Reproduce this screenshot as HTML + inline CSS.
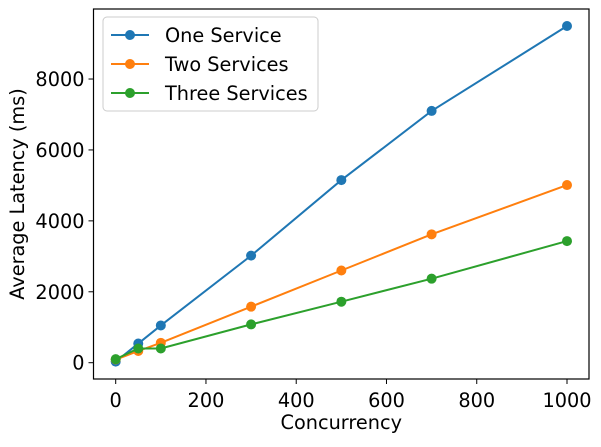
<!DOCTYPE html>
<html><head><meta charset="utf-8"><style>
body{margin:0;background:#fff;}
svg text{font-family:"DejaVu Sans","Liberation Sans",sans-serif;font-size:19.3px;fill:#000;}
</style></head><body>
<svg width="601" height="442" xmlns="http://www.w3.org/2000/svg">
<g id="plot"></g>
</svg>
<script>
const concurrency=[0,50,100,300,500,700,1000];
const oneService=[30,540,1050,3020,5150,7100,9495];
const twoServices=[90,330,560,1580,2600,3620,5010];
const threeServices=[100,400,400,1080,1720,2370,3430];
const xTicks=[0,200,400,600,800,1000];
const yTicks=[0,2000,4000,6000,8000];
const seriesNames=["One Service","Two Services","Three Services"];
const colors=["#1f77b4","#ff7f0e","#2ca02c"];
const L=93.5,R=589,T=9,B=379;
function X(v){return 115.7+v*0.4513;}
function Y(v){return 362.7-v*0.03546;}
const NS="http://www.w3.org/2000/svg";
const g=document.getElementById('plot');
function mk(t,a){const e=document.createElementNS(NS,t);for(const k in a)e.setAttribute(k,a[k]);g.appendChild(e);return e;}
[oneService,twoServices,threeServices].forEach((s,i)=>{
  const p=mk('polyline',{points:s.map((v,j)=>X(concurrency[j])+','+Y(v)).join(' '),fill:'none',stroke:colors[i],'stroke-width':2});
  
  
  s.forEach((v,j)=>{const c=mk('circle',{cx:X(concurrency[j]),cy:Y(v),r:5,fill:colors[i]});
    
    });
});
const fr=mk('rect',{x:L,y:T,width:R-L,height:B-T,fill:'none',stroke:'#000','stroke-width':1.2});


xTicks.forEach(v=>{mk('line',{x1:X(v),x2:X(v),y1:B,y2:B+5,stroke:'#000'});
  const t=mk('text',{x:X(v),y:B+28,'text-anchor':'middle'});t.textContent=v;
  
  });
yTicks.forEach(v=>{mk('line',{x1:L-5,x2:L,y1:Y(v),y2:Y(v),stroke:'#000'});
  const t=mk('text',{x:L-9,y:Y(v)+7,'text-anchor':'end'});t.textContent=v;
  
  });
const xt=mk('text',{x:(L+R)/2,y:429,'text-anchor':'middle'});xt.textContent='Concurrency';


const yt=mk('text',{x:0,y:0,'text-anchor':'middle',transform:'translate(24,194) rotate(-90)'});yt.textContent='Average Latency (ms)';


const lg=mk('rect',{x:103,y:17,width:215,height:94,rx:4,fill:'#fff',stroke:'#ccc'});


seriesNames.forEach((n,i)=>{const y=35+i*29;
  mk('line',{x1:111,x2:149,y1:y,y2:y,stroke:colors[i],'stroke-width':2});
  mk('circle',{cx:130,cy:y,r:5,fill:colors[i]});
  const t=mk('text',{x:165,y:y+7});t.textContent=n;
  
  });
</script>
</body></html>
